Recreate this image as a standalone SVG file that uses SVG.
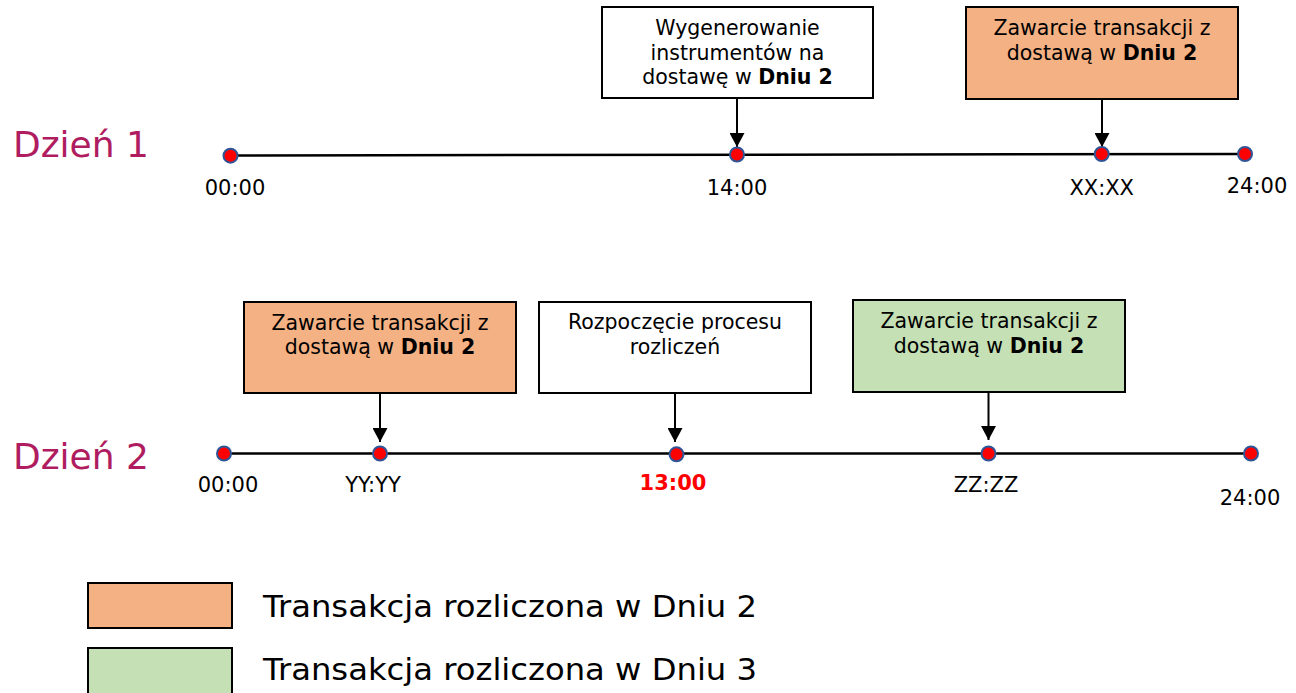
<svg xmlns="http://www.w3.org/2000/svg" width="1296" height="693" viewBox="0 0 1296 693">
<defs>
<marker id="ah" markerWidth="15" markerHeight="15" refX="14" refY="7.5" orient="auto" markerUnits="userSpaceOnUse" viewBox="0 0 15 15">
<path d="M0,0 L14,7.5 L0,15 Z" fill="#000"/>
</marker>
<style>
text{font-family:"DejaVu Sans","Verdana",sans-serif;fill:#000}
.day{font-size:36px;fill:#B01C60}
.box{stroke:#000;stroke-width:2}
.bt{font-size:20.5px;text-anchor:middle}
.tl{font-size:21px;text-anchor:middle}
.axis{stroke:#000;stroke-width:2.5;fill:none}
.dot{fill:#FF0000;stroke:#2F5597;stroke-width:2}
.conn{stroke:#000;stroke-width:2;fill:none;marker-end:url(#ah)}
.lg{font-size:30px}
</style>
</defs>
<rect width="1296" height="693" fill="#FFFFFF"/>

<g id="day1-label"><text class="day" x="13" y="157">Dzień 1</text></g>
<g id="day2-label"><text class="day" x="13" y="469">Dzień 2</text></g>

<g id="timelines">
<line class="axis" x1="230" y1="155.5" x2="1245" y2="154"/>
<line class="axis" x1="224" y1="453.5" x2="1251" y2="453.5"/>
</g>

<g id="connectors">
<line class="conn" x1="737" y1="99" x2="737" y2="147"/>
<line class="conn" x1="1102" y1="100" x2="1102" y2="147"/>
<line class="conn" x1="380" y1="394" x2="380" y2="442"/>
<line class="conn" x1="675" y1="394" x2="675" y2="442"/>
<line class="conn" x1="988.5" y1="392" x2="988.5" y2="440"/>
</g>

<g id="d1-0000"><circle class="dot" cx="230.5" cy="155.7" r="7"/><text class="tl" x="235" y="195">00:00</text></g>
<g id="d1-1400"><circle class="dot" cx="737" cy="154.5" r="7"/><text class="tl" x="737" y="195">14:00</text></g>
<g id="d1-xxxx"><circle class="dot" cx="1101.7" cy="154" r="7"/><text class="tl" x="1101.7" y="195">XX:XX</text></g>
<g id="d1-2400"><circle class="dot" cx="1245" cy="154" r="7"/><text class="tl" x="1257" y="193">24:00</text></g>

<g id="d2-0000"><circle class="dot" cx="224" cy="453.5" r="7"/><text class="tl" x="228" y="492">00:00</text></g>
<g id="d2-yyyy"><circle class="dot" cx="380" cy="453.5" r="7"/><text class="tl" x="373" y="492">YY:YY</text></g>
<g id="d2-1300"><circle class="dot" cx="676.5" cy="454.3" r="7"/><text class="tl" x="673" y="490" font-weight="bold" style="fill:#FF0000">13:00</text></g>
<g id="d2-zzzz"><circle class="dot" cx="988.5" cy="453.5" r="7"/><text class="tl" x="986" y="492">ZZ:ZZ</text></g>
<g id="d2-2400"><circle class="dot" cx="1251" cy="453.5" r="7"/><text class="tl" x="1250" y="505">24:00</text></g>

<g id="box-generate">
<rect class="box" x="602" y="7" width="271" height="91" fill="#FFFFFF"/>
<text class="bt" x="737.5" y="35">Wygenerowanie</text>
<text class="bt" x="737.5" y="59.5">instrumentów na</text>
<text class="bt" x="737.5" y="84">dostawę w <tspan font-weight="bold">Dniu 2</tspan></text>
</g>

<g id="box-d1-trade">
<rect class="box" x="966" y="7" width="272" height="92" fill="#F4B183"/>
<text class="bt" x="1102" y="35">Zawarcie transakcji z</text>
<text class="bt" x="1102" y="60">dostawą w <tspan font-weight="bold">Dniu 2</tspan></text>
</g>

<g id="box-d2-trade-orange">
<rect class="box" x="244" y="302" width="272" height="91" fill="#F4B183"/>
<text class="bt" x="380" y="329.5">Zawarcie transakcji z</text>
<text class="bt" x="380" y="353.5">dostawą w <tspan font-weight="bold">Dniu 2</tspan></text>
</g>

<g id="box-settlement">
<rect class="box" x="539" y="302" width="272" height="91" fill="#FFFFFF"/>
<text class="bt" x="675" y="329">Rozpoczęcie procesu</text>
<text class="bt" x="675" y="354">rozliczeń</text>
</g>

<g id="box-d2-trade-green">
<rect class="box" x="853" y="300" width="272" height="92" fill="#C5E0B4"/>
<text class="bt" x="989" y="327.5">Zawarcie transakcji z</text>
<text class="bt" x="989" y="352.5">dostawą w <tspan font-weight="bold">Dniu 2</tspan></text>
</g>

<g id="legend-orange">
<rect class="box" x="88" y="583" width="144" height="45" fill="#F4B183"/>
<text class="lg" x="263" y="616.5" textLength="494" lengthAdjust="spacingAndGlyphs">Transakcja rozliczona w Dniu 2</text>
</g>
<g id="legend-green">
<rect class="box" x="88" y="648" width="144" height="50" fill="#C5E0B4"/>
<text class="lg" x="263" y="680" textLength="494" lengthAdjust="spacingAndGlyphs">Transakcja rozliczona w Dniu 3</text>
</g>
</svg>
